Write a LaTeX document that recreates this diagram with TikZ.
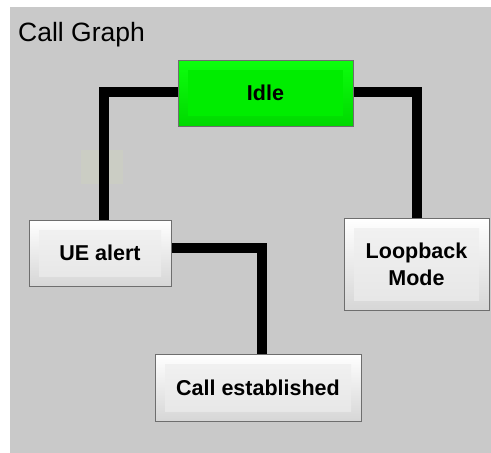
\documentclass[tikz,border=0pt]{standalone}
\usepackage{fontspec}
\setmainfont{Liberation Sans}
\usetikzlibrary{backgrounds}
\definecolor{panel}{HTML}{C9C9C9}
\definecolor{boxedge}{HTML}{6E6E6E}
\definecolor{ghost}{HTML}{CBCDC4}
\tikzset{
  x=1pt, y=-1pt,
  wirebox/.style={rectangle, draw=boxedge, line width=1pt, inner sep=0pt,
    top color=white, bottom color=black!16,
    font=\fontsize{21.5}{27}\selectfont\bfseries, align=center,
    path picture={
      \fill[top color=black!5, bottom color=black!10]
        ([xshift=10pt,yshift=-10pt]path picture bounding box.north west)
        rectangle ([xshift=-10pt,yshift=10pt]path picture bounding box.south east);
    }},
  greenbox/.style={rectangle, draw=boxedge, line width=1pt, inner sep=0pt,
    top color=green!95!white, bottom color=green!85!black,
    font=\fontsize{21.5}{27}\selectfont\bfseries, align=center,
    path picture={
      \fill[color=green!93!black]
        ([xshift=10pt,yshift=-10pt]path picture bounding box.north west)
        rectangle ([xshift=-10pt,yshift=10pt]path picture bounding box.south east);
    }},
  wire/.style={line width=10pt, line join=miter, line cap=butt, black}
}
\begin{document}
\begin{tikzpicture}
\useasboundingbox (0,0) rectangle (491,453);
\begin{scope}[on background layer]
\fill[white] (0,0) rectangle (491,453);
\fill[panel] (10,7) rectangle (491,453);
% faint ghost icon
\fill[ghost] (81,150) rectangle (123,184);
\end{scope}
\node[anchor=base west, inner sep=0pt, font=\fontsize{26.5}{30}\selectfont] (title) at (18,41) {Call Graph};
\node[greenbox, minimum width=175pt, minimum height=66pt] (idle) at (265.5,93) {Idle};
\node[wirebox, minimum width=142pt, minimum height=66pt] (ue) at (100,253) {UE alert};
\node[wirebox, minimum width=145pt, minimum height=92pt] (loop) at (416.5,264) {Loopback\\Mode};
\node[wirebox, minimum width=206pt, minimum height=67pt] (call) at (258,387.5) {Call established};
\begin{scope}[on background layer]
\draw[wire] ([yshift=1pt]idle.west) -| ([xshift=4pt]ue.north);
\draw[wire] ([yshift=1pt]idle.east) -| (loop.north);
\draw[wire] ([yshift=5pt]ue.east) -| ([xshift=4pt]call.north);
\end{scope}
\end{tikzpicture}
\end{document}
